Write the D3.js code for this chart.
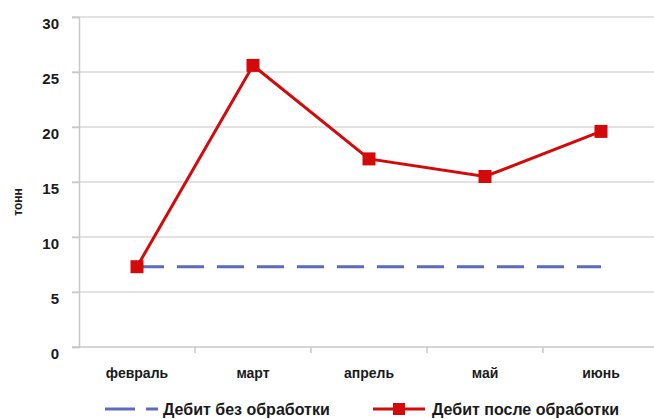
<!DOCTYPE html>
<html>
<head>
<meta charset="utf-8">
<script src="https://cdn.jsdelivr.net/npm/d3@7"></script>
<style>
  html, body { margin: 0; padding: 0; background: #fff; }
  svg { display: block; }
  text { font-family: "Liberation Sans Narrow", "Arial Narrow", "Liberation Sans", Arial, sans-serif; font-weight: bold; fill: #1a1a1a; }
</style>
</head>
<body>
<svg id="chart" width="654" height="419"></svg>
<script>
// Monthly output, tonnes
const months = ["февраль", "март", "апрель", "май", "июнь"];
const beforeTreatment = [7.3, 7.3, 7.3, 7.3, 7.3];
const afterTreatment = [7.3, 25.6, 17.1, 15.5, 19.6];
const yTicks = [0, 5, 10, 15, 20, 25, 30];
const seriesNames = ["Дебит без обработки", "Дебит после обработки"];

const svg = d3.select("#chart");
const plotLeft = 79, plotRight = 659, plotTop = 17, plotBottom = 347;

const x = d3.scaleBand().domain(months).range([plotLeft, plotRight]);
const y = d3.scaleLinear().domain([0, 30]).range([plotBottom, plotTop]);

// horizontal gridlines
svg.append("g").selectAll("line").data(yTicks.filter(d => d > 0)).join("line")
  .attr("x1", plotLeft - 7).attr("x2", 654)
  .attr("y1", d => y(d)).attr("y2", d => y(d))
  .attr("stroke", "#d9d9d9").attr("stroke-width", 1.5);

// y axis
const yAxis = svg.append("g").attr("transform", `translate(${plotLeft},0)`)
  .call(d3.axisLeft(y).tickValues(yTicks).tickSize(7).tickPadding(13));
yAxis.attr("font-family", null);
yAxis.select(".domain").attr("stroke", "#c8c8c8").attr("stroke-width", 1.5);
yAxis.selectAll(".tick line").attr("stroke", "#c8c8c8").attr("stroke-width", 1.5);
yAxis.selectAll(".tick text").attr("font-size", 15).attr("dy", "0.75em");

// x axis
const xAxis = svg.append("g").attr("transform", `translate(0,${plotBottom})`)
  .call(d3.axisBottom(x).tickSize(0).tickPadding(21));
xAxis.attr("font-family", null);
xAxis.select(".domain").attr("stroke", "#c8c8c8").attr("stroke-width", 1.5)
  .attr("d", `M${plotLeft - 7},0H654`);
xAxis.selectAll(".tick text").attr("font-size", 14);
// band boundary ticks
svg.append("g").selectAll("line").data(months.slice(1)).join("line")
  .attr("x1", d => x(d)).attr("x2", d => x(d))
  .attr("y1", plotBottom).attr("y2", plotBottom + 6)
  .attr("stroke", "#c8c8c8").attr("stroke-width", 1.5);

// y axis title
svg.append("text")
  .attr("transform", `translate(22,${(plotTop + plotBottom) / 2 + 20}) rotate(-90)`)
  .attr("text-anchor", "middle").attr("font-size", 12)
  .text("тонн");

const cx = d => x(d) + x.bandwidth() / 2;

// baseline series
svg.append("path")
  .datum(beforeTreatment)
  .attr("fill", "none").attr("stroke", "#5a6bc0").attr("stroke-width", 3)
  .attr("stroke-dasharray", "27,13")
  .attr("d", d3.line().x((d, i) => cx(months[i])).y(d => y(d)));

// treated series
svg.append("path")
  .datum(afterTreatment)
  .attr("fill", "none").attr("stroke", "#d40a0a").attr("stroke-width", 3)
  .attr("d", d3.line().x((d, i) => cx(months[i])).y(d => y(d)));

const sq = 13;
svg.append("g").selectAll("rect").data(afterTreatment).join("rect")
  .attr("x", (d, i) => cx(months[i]) - sq / 2)
  .attr("y", d => y(d) - sq / 2)
  .attr("width", sq).attr("height", sq)
  .attr("fill", "#d40a0a");

// legend
const lg = svg.append("g");
lg.append("line").attr("x1", 105).attr("x2", 135).attr("y1", 409).attr("y2", 409)
  .attr("stroke", "#5a6bc0").attr("stroke-width", 3);
lg.append("line").attr("x1", 146).attr("x2", 158).attr("y1", 409).attr("y2", 409)
  .attr("stroke", "#5a6bc0").attr("stroke-width", 3);
lg.append("text").attr("x", 163).attr("y", 415).attr("font-size", 16).text(seriesNames[0]);

lg.append("line").attr("x1", 373).attr("x2", 425).attr("y1", 409).attr("y2", 409)
  .attr("stroke", "#d40a0a").attr("stroke-width", 3);
lg.append("rect").attr("x", 393).attr("y", 403).attr("width", 12).attr("height", 12)
  .attr("fill", "#d40a0a");
lg.append("text").attr("x", 432).attr("y", 415).attr("font-size", 16).text(seriesNames[1]);
</script>
</body>
</html>
